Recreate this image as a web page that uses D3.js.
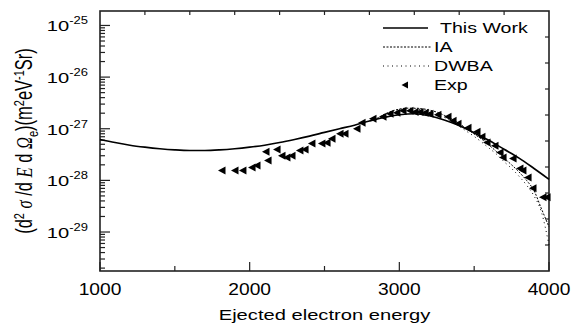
<!DOCTYPE html>
<html>
<head>
<meta charset="utf-8">
<script src="https://cdn.jsdelivr.net/npm/d3@7"></script>
<style>
body { margin: 0; background: #fff; }
svg text { font-family: "Liberation Sans", Arial, sans-serif; fill: #000; }
</style>
</head>
<body>
<div id="graphic"></div>
<script>
// theory curves, E in eV, cross sections in m^2 eV^-1 Sr^-1
var workE = [1000,1100,1200,1300,1400,1500,1600,1700,1800,1900,2000,2100,2200,2300,2400,2500,2600,2700,2800,2900,3000,3100,3200,3300,3400,3500,3600,3700,3800,3900,4000];
var workVal = [6.2e-28,5.4e-28,4.8e-28,4.4e-28,4.1e-28,3.9e-28,3.8e-28,3.8e-28,3.9e-28,4.1e-28,4.4e-28,4.8e-28,5.4e-28,6.2e-28,7.2e-28,8.5e-28,1.0e-27,1.17e-27,1.41e-27,1.66e-27,1.86e-27,1.95e-27,1.78e-27,1.48e-27,1.15e-27,8.3e-28,5.9e-28,4.0e-28,2.7e-28,1.7e-28,1.05e-28];

var iaE = [2850,2900,2950,3000,3050,3100,3150,3200,3250,3300,3350,3400,3450,3500,3550,3600,3650,3700,3750,3800,3850,3900,3950,4000];
var iaVal = [1.58e-27,1.9e-27,2.19e-27,2.4e-27,2.5e-27,2.5e-27,2.45e-27,2.3e-27,2.1e-27,1.82e-27,1.55e-27,1.26e-27,1.0e-27,7.9e-28,6.3e-28,4.8e-28,3.6e-28,2.7e-28,2.0e-28,1.45e-28,1.0e-28,6.3e-29,2.8e-29,1.26e-29];

var dwbaE = [2900,2950,3000,3050,3100,3150,3200,3250,3300,3350,3400,3450,3500,3550,3600,3650,3700,3750,3800,3850,3900,3950,4000];
var dwbaVal = [1.78e-27,2.1e-27,2.34e-27,2.45e-27,2.45e-27,2.34e-27,2.19e-27,1.95e-27,1.66e-27,1.38e-27,1.12e-27,8.9e-28,7.1e-28,5.5e-28,4.2e-28,3.2e-28,2.3e-28,1.7e-28,1.2e-28,8.1e-29,5.0e-29,2.4e-29,5.6e-30];

// experiment
var expE = [1815,1902,1955,2016,2049,2109,2123,2183,2216,2249,2283,2336,2370,2416,2483,2517,2550,2604,2637,2717,2751,2824,2891,2938,2984,3025,3071,3105,3138,3172,3205,3258,3325,3359,3392,3459,3519,3552,3586,3639,3673,3693,3760,3806,3826,3860,3893,3960,3987];
var expVal = [1.56e-28,1.56e-28,1.56e-28,1.78e-28,1.94e-28,3.6e-28,2.43e-28,3.95e-28,3.0e-28,2.77e-28,3.0e-28,3.77e-28,3.95e-28,5.15e-28,5.15e-28,5.38e-28,6.42e-28,8.0e-28,8.0e-28,1.0e-27,1.3e-27,1.56e-27,1.7e-27,1.94e-27,2.04e-27,2.22e-27,2.22e-27,2.12e-27,2.12e-27,2.04e-27,1.94e-27,1.86e-27,1.7e-27,1.43e-27,1.25e-27,1.05e-27,8.75e-28,7.0e-28,5.4e-28,4.7e-28,3.45e-28,2.77e-28,2.65e-28,1.7e-28,1.56e-28,1.14e-28,7.0e-29,4.7e-29,4.7e-29];

var xMajor = [1000,2000,3000,4000];
var xMinor = [1500,2500,3500];
var yDecades = [-29,-28,-27,-26,-25];

var legendNames = ["This Work","IA","DWBA","Exp"];

var width = 585, height = 327;
var margin = {top: 11, right: 36, bottom: 56, left: 100};

var svg = d3.select("#graphic").append("svg")
	.attr("width", width)
	.attr("height", height);

var x = d3.scaleLinear().domain([1000,4000]).range([margin.left, width - margin.right]);
var y = d3.scaleLog().domain([Math.pow(10,-29.755), Math.pow(10,-24.72)]).range([height - margin.bottom, margin.top]);

var x0 = x.range()[0], x1 = x.range()[1], y0 = y.range()[0], y1 = y.range()[1];

function stretched(g, px, py, str, size, sx, anchor) {
	return g.append("text")
		.attr("transform", "translate(" + px + "," + py + ") scale(" + sx + ",1)")
		.attr("font-size", size)
		.attr("text-anchor", anchor || "start")
		.text(str);
}

var axes = svg.append("g").attr("stroke", "#222").attr("stroke-width", 1.2);

// bottom ticks
xMajor.forEach(function(d) {
	axes.append("line").attr("x1", x(d)).attr("x2", x(d)).attr("y1", y0).attr("y2", y0 - 9);
});
xMinor.forEach(function(d) {
	axes.append("line").attr("x1", x(d)).attr("x2", x(d)).attr("y1", y0).attr("y2", y0 - 5);
});
// top and right: plain divisions
var topScale = d3.scaleLinear().domain([0,10]).range([x0, x1]);
var rightScale = d3.scaleLinear().domain([0,10]).range([y1, y0]);
d3.range(1,10).forEach(function(i) {
	axes.append("line").attr("x1", topScale(i)).attr("x2", topScale(i)).attr("y1", y1).attr("y2", y1 + 4);
	axes.append("line").attr("x1", x1).attr("x2", x1 - 4).attr("y1", rightScale(i)).attr("y2", rightScale(i));
});
// left log ticks
yDecades.forEach(function(p) {
	var v = Math.pow(10, p);
	axes.append("line").attr("x1", x0).attr("x2", x0 + 10).attr("y1", y(v)).attr("y2", y(v));
	for (var k = 2; k <= 9; k++) {
		var m = k * Math.pow(10, p - 1);
		if (y(m) < y0 && y(m) > y1)
			axes.append("line").attr("x1", x0).attr("x2", x0 + 5).attr("y1", y(m)).attr("y2", y(m));
	}
});
for (var k = 2; k <= 9; k++) {
	var m = k * Math.pow(10, -25);
	if (y(m) > y1) axes.append("line").attr("x1", x0).attr("x2", x0 + 5).attr("y1", y(m)).attr("y2", y(m));
}

axes.append("rect").attr("x", x0).attr("y", y1).attr("width", x1 - x0).attr("height", y0 - y1)
	.attr("fill", "none").attr("stroke-width", 1.6);

// tick labels
xMajor.forEach(function(d) {
	stretched(svg, x(d), 295, d, 16, 1.2, "middle");
});
yDecades.forEach(function(p) {
	var t = svg.append("text")
		.attr("transform", "translate(88," + (y(Math.pow(10,p)) + 6) + ") scale(1.3,1)")
		.attr("text-anchor", "end")
		.attr("font-size", 15.5);
	t.append("tspan").text("10");
	t.append("tspan").attr("dy", -7).attr("font-size", 10).text(String(p));
});

// axis titles
stretched(svg, (x0 + x1) / 2, 320, "Ejected electron energy", 15.5, 1.3, "middle");

var yt = svg.append("text")
	.attr("transform", "translate(32," + ((y0 + y1) / 2) + ") scale(1.4,1) rotate(-90)")
	.attr("text-anchor", "middle")
	.attr("font-size", 16.5);
yt.append("tspan").text("(d");
yt.append("tspan").attr("dy", -6).attr("font-size", 11).text("2");
yt.append("tspan").attr("dy", 6).text(" ");
yt.append("tspan").attr("font-family", "Liberation Serif").attr("font-style", "italic").text("σ");
yt.append("tspan").text(" /d ");
yt.append("tspan").attr("font-family", "Liberation Serif").attr("font-style", "italic").text("E");
yt.append("tspan").text(" d ");
yt.append("tspan").attr("font-family", "Liberation Serif").attr("font-style", "italic").text("Ω");
yt.append("tspan").attr("dy", 4).attr("font-size", 11).text("e");
yt.append("tspan").attr("dy", -4).text(")(m");
yt.append("tspan").attr("dy", -6).attr("font-size", 11).text("2");
yt.append("tspan").attr("dy", 6).text("eV");
yt.append("tspan").attr("dy", -6).attr("font-size", 11).text("-1");
yt.append("tspan").attr("dy", 6).text("Sr)");

// curves
var line = d3.line()
	.x(function(d) { return x(d[0]); })
	.y(function(d) { return y(d[1]); })
	.curve(d3.curveMonotoneX);

var plot = svg.append("g");
plot.append("path").datum(d3.zip(workE, workVal)).attr("d", line)
	.attr("fill", "none").attr("stroke", "#000").attr("stroke-width", 1.6);
plot.append("path").datum(d3.zip(iaE, iaVal)).attr("d", line)
	.attr("fill", "none").attr("stroke", "#000").attr("stroke-width", 1).attr("stroke-dasharray", "2,1.5");
plot.append("path").datum(d3.zip(dwbaE, dwbaVal)).attr("d", line)
	.attr("fill", "none").attr("stroke", "#000").attr("stroke-width", 1).attr("stroke-dasharray", "1,3.5");

var tri = "M-4,0L3.5,-4L3.5,4Z";
plot.selectAll(".exp").data(d3.zip(expE, expVal)).enter()
	.append("path").attr("class", "exp")
	.attr("d", tri)
	.attr("transform", function(d) { return "translate(" + x(d[0]) + "," + y(d[1]) + ")"; })
	.attr("fill", "#000");

// legend
var leg = svg.append("g");
var rows = [28, 47, 66, 85];
leg.append("line").attr("x1", 383).attr("x2", 428).attr("y1", rows[0]).attr("y2", rows[0]).attr("stroke", "#000").attr("stroke-width", 1.4);
leg.append("line").attr("x1", 383).attr("x2", 431).attr("y1", rows[1]).attr("y2", rows[1]).attr("stroke", "#000").attr("stroke-width", 1).attr("stroke-dasharray", "2,1.5");
leg.append("line").attr("x1", 383).attr("x2", 431).attr("y1", rows[2]).attr("y2", rows[2]).attr("stroke", "#000").attr("stroke-width", 1).attr("stroke-dasharray", "1,3.5");
leg.append("path").attr("d", "M-3.5,0L3,-3.5L3,3.5Z").attr("transform", "translate(405," + rows[3] + ")").attr("fill", "#000");
stretched(leg, 440, rows[0] + 5, legendNames[0], 14, 1.4);
stretched(leg, 434, rows[1] + 5, legendNames[1], 14, 1.4);
stretched(leg, 434, rows[2] + 5, legendNames[2], 14, 1.4);
stretched(leg, 434, rows[3] + 5, legendNames[3], 14, 1.4);
</script>
</body>
</html>
